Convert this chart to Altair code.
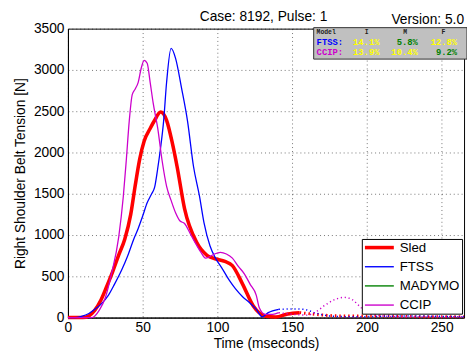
import altair as alt
import pandas as pd

# ---------------- data ----------------
series_names = ["Sled", "FTSS", "MADYMO", "CCIP"]
series_colors = ["#ff0000", "#0000ff", "#008000", "#cc00cc"]

sled_t = [0, 10, 14, 18, 22, 26, 30, 34, 38, 42, 45, 48, 51, 55, 58, 62, 66, 70, 73, 78, 86, 93, 99, 105, 110, 117, 124, 132, 139, 147, 155]
sled_v = [0, 0, 20, 90, 210, 380, 560, 760, 950, 1250, 1600, 1920, 2140, 2290, 2390, 2490, 2390, 2100, 1830, 1320, 915, 755, 710, 680, 630, 400, 140, 20, 8, 45, 60]

ftss_t = [0, 5, 9, 14, 18, 22, 27, 31, 36, 40, 44, 47, 50, 53, 56, 58, 60, 62, 64, 66, 69, 72, 76, 80, 84, 88, 91, 95, 99, 103, 108, 112, 117, 121, 126, 130, 134, 141]
ftss_v = [0, 0, 15, 50, 100, 160, 270, 400, 580, 750, 950, 1080, 1230, 1390, 1500, 1580, 1800, 2060, 2380, 2850, 3260, 3140, 2780, 2380, 1830, 1470, 1150, 870, 710, 600, 450, 350, 250, 190, 100, 10, 60, 100]

ccip_t = [0, 10, 16, 18, 21, 25, 29, 34, 37, 39, 41, 43, 45, 47, 49, 51, 53, 55, 57, 60, 63, 66, 69, 72, 75, 78, 82, 86, 89, 92, 95, 98, 102, 106, 110, 114, 118, 122, 126, 128, 132, 137, 141]
ccip_v = [0, 0, 0, 20, 90, 240, 520, 980, 1460, 1900, 2380, 2700, 2770, 2850, 3020, 3115, 3080, 2850, 2600, 2300, 1900, 1590, 1420, 1270, 1170, 1140, 1010, 880, 790, 720, 740, 770, 790, 770, 720, 620, 530, 400, 270, 120, 40, 40, 60]

# dotted tails after the solid part
sled_tail_t = [155, 165, 175, 185, 195, 205, 215, 225, 235, 245, 255, 265]
sled_tail_v = [60, 40, 25, 20, 20, 20, 20, 15, 10, 10, 10, 10]
ftss_tail_t = [141, 150, 158, 165, 175, 190, 210, 230, 250, 265]
ftss_tail_v = [100, 105, 100, 60, 20, 10, 15, 20, 15, 10]
ccip_tail_t = [141, 150, 160, 165, 172, 178, 185, 190, 195, 200, 210, 225, 245, 265]
ccip_tail_v = [60, 40, 30, 60, 150, 215, 245, 220, 140, 60, 20, 10, 10, 10]

x_ticks = [0, 50, 100, 150, 200, 250]
y_ticks = [0, 500, 1000, 1500, 2000, 2500, 3000, 3500]

title_text = "Case: 8192, Pulse: 1"
version_text = "Version: 5.0"

table_header = ["Model", "I", "M", "F"]
table_models = ["FTSS:", "CCIP:"]
table_model_colors = ["#0000ff", "#cc00cc"]
table_I = ["14.1%", "13.9%"]
table_M = ["5.8%", "10.4%"]
table_F = ["12.8%", "9.2%"]
grade_I = ["Y", "Y"]
grade_M = ["G", "Y"]
grade_F = ["Y", "G"]
grade_colors = {"Y": "#ffff00", "G": "#008000"}

# ---------------- build tables ----------------
rows = []
for name, ts, vs in [("Sled", sled_t, sled_v), ("FTSS", ftss_t, ftss_v), ("CCIP", ccip_t, ccip_v)]:
    for t, v in zip(ts, vs):
        rows.append({"series": name, "t": t, "v": v})
df = pd.DataFrame(rows)

x_scale = alt.Scale(domain=[0, 265], nice=False, zero=False)
y_scale = alt.Scale(domain=[0, 3500], nice=False)

FONT = "Liberation Sans"
GRID = dict(grid=True, gridDash=[1, 3], gridColor="#000000", gridOpacity=0.55, ticks=False,
            labelFontSize=14, titleFontSize=14, titleFontWeight="normal",
            labelFont=FONT, titleFont=FONT, labelColor="black", titleColor="black",
            domainColor="black", labelFlush=False, format="d")

x_enc = alt.X("t:Q", scale=x_scale,
              axis=alt.Axis(values=x_ticks, title="Time (mseconds)", labelPadding=3, titlePadding=2, **GRID))
y_enc = alt.Y("v:Q", scale=y_scale,
              axis=alt.Axis(values=y_ticks, title="Right Shoulder Belt Tension [N]",
                            labelPadding=4, titlePadding=6, **GRID))

legend = alt.Legend(
    title=None, orient="none", legendX=299, legendY=214,
    strokeColor="black", fillColor="white", padding=2,
    symbolType="M-0.8,0H3.4", symbolSize=196,
    labelFontSize=13.5, labelFont=FONT, labelColor="black",
    labelOffset=23, rowPadding=4.5, cornerRadius=0,
    symbolStrokeWidth=alt.ExprRef(expr="datum.value === 'Sled' ? 3.6 : 1.4"),
)

lines = alt.Chart(df).mark_line(interpolate="monotone").transform_calculate(
    w="datum.series === 'Sled' ? 3.6 : 1.3"
).encode(
    x=x_enc,
    y=y_enc,
    color=alt.Color("series:N", scale=alt.Scale(domain=series_names, range=series_colors), legend=legend),
    strokeWidth=alt.StrokeWidth("w:Q", scale=None, legend=None),
)

layers = [lines]

for ts, vs, col, w, dash in [(sled_tail_t, sled_tail_v, "#ff0000", 3.0, [1.5, 3]),
                             (ftss_tail_t, ftss_tail_v, "#0000ff", 1.5, [1.2, 2.8]),
                             (ccip_tail_t, ccip_tail_v, "#cc00cc", 1.5, [1.2, 2.8])]:
    tdf = pd.DataFrame({"t": ts, "v": vs})
    layers.append(
        alt.Chart(tdf).mark_line(interpolate="monotone", strokeDash=dash, strokeWidth=w, color=col)
        .encode(x=alt.X("t:Q", scale=x_scale), y=alt.Y("v:Q", scale=y_scale))
    )


def text_layer(txt, px, py, size, color="black", align="center", font=FONT, weight="normal"):
    return alt.Chart(pd.DataFrame({"s": [txt]})).mark_text(
        align=align, baseline="alphabetic", fontSize=size, font=font, fontWeight=weight, color=color
    ).encode(text="s:N", x=alt.value(px), y=alt.value(py))


# title and version
layers.append(text_layer(title_text, 199, -8, 14))
layers.append(text_layer(version_text, 403, -5, 14, align="right"))

# info table box
layers.append(
    alt.Chart(pd.DataFrame({"a": [0]})).mark_rect(fill="#c0c0c0", stroke="#303030", strokeWidth=1)
    .encode(x=alt.value(250), x2=alt.value(406), y=alt.value(-1), y2=alt.value(31))
)

MONO = "Liberation Mono"
# header
hdr_x = [253, 304, 343, 382]
hdr_align = ["left", "center", "center", "center"]
for txt, px, al in zip(table_header, hdr_x, hdr_align):
    layers.append(text_layer(txt, px, 5, 6.5, color="#202020", align=al, font=MONO, weight="bold"))

row_y = [17, 27]
col_right = [317, 356, 396]
for i in range(2):
    layers.append(text_layer(table_models[i], 253, row_y[i], 9, color=table_model_colors[i],
                             align="left", font=MONO, weight="bold"))
    for vals, grades, px in [(table_I, grade_I, col_right[0]), (table_M, grade_M, col_right[1]),
                             (table_F, grade_F, col_right[2])]:
        layers.append(text_layer(vals[i], px, row_y[i], 9, color=grade_colors[grades[i]],
                                 align="right", font=MONO, weight="bold"))

chart = alt.layer(*layers).properties(
    width=403, height=294,
    autosize=alt.AutoSizeParams(type="none"),
    padding={"left": 61, "top": 18, "right": 3, "bottom": 32},
    background="white",
).configure_view(stroke="black", strokeWidth=1)

chart.save("out.html", embed_options={"renderer": "svg", "actions": False})
